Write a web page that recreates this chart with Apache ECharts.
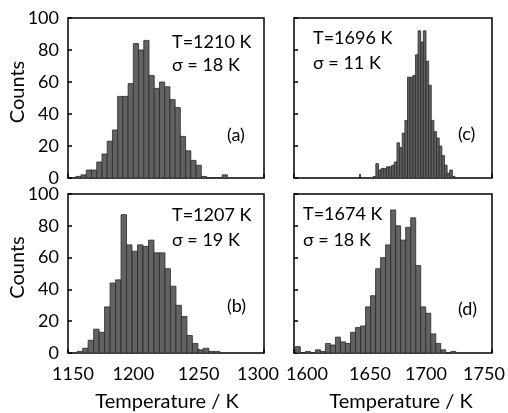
<!DOCTYPE html>
<html>
<head>
<meta charset="utf-8">
<script src="https://cdn.jsdelivr.net/npm/echarts@6/dist/echarts.min.js"></script>
<style>html,body{margin:0;padding:0;background:#fff}#c{width:508px;height:413px}</style>
</head>
<body>
<div id="c"></div>
<script>
// ---- data ----
const yTicks = [0, 20, 40, 60, 80, 100];
const xTicksLeft = [1150, 1200, 1250, 1300];
const xTicksRight = [1600, 1650, 1700, 1750];

// panel (a): bins of 4 K starting at 1156
const aBinStart = 1156, aBinWidth = 4;
const aCounts = [1, 2, 5, 5, 10, 15, 23, 30, 51, 51, 59, 84, 80, 86, 64, 56, 60, 57, 49, 44, 26, 17, 11, 8, 1, 0, 0, 0, 2];
// panel (b): bins of 4.2 K starting at 1157
const bBinStart = 1157, bBinWidth = 4.2;
const bCounts = [1, 3, 8, 15, 13, 29, 44, 46, 87, 68, 64, 68, 67, 71, 63, 63, 53, 42, 30, 23, 11, 6, 2, 3, 1, 1];
// panel (c): bins of 2 K starting at 1660
const cBinStart = 1660, cBinWidth = 2;
const cCounts = [1, 9, 5, 6, 6, 7, 7, 8, 10, 22, 19, 28, 36, 63, 63, 64, 77, 92, 85, 92, 73, 58, 36, 29, 25, 20, 14, 8, 3, 5, 1];
// panel (d): bins of 3.8 K starting at 1601
const dBinStart = 1601, dBinWidth = 3.8;
const dCounts = [4, 0, 1, 0, 2, 1, 6, 5, 10, 7, 6, 13, 16, 17, 29, 36, 53, 60, 68, 90, 80, 71, 79, 85, 55, 29, 25, 12, 6, 2, 0, 1];

const annotations = [
  ['T=1210 K', 'σ = 18 K', '(a)'],
  ['T=1696 K', 'σ = 11 K', '(c)'],
  ['T=1207 K', 'σ = 19 K', '(b)'],
  ['T=1674 K', 'σ = 18 K', '(d)']
];
const yName = 'Counts';
const xName = 'Temperature / K';

// ---- build ----
function bins(start, width, counts) {
  return counts.map((c, i) => [start + i * width, start + (i + 1) * width, c]);
}
const FONT = 'Lato';
const chart = echarts.init(document.getElementById('c'), null, {renderer: 'canvas'});

const grids = [
  {left: 68, top: 18, width: 196, height: 160},
  {left: 294, top: 18, width: 198, height: 160},
  {left: 68, top: 194, width: 196, height: 159},
  {left: 294, top: 194, width: 198, height: 159}
].map(g => Object.assign({show: true, borderColor: '#000', borderWidth: 1.5, backgroundColor: 'transparent'}, g));

const shiftsLeft = {1150: 5, 1200: 0, 1250: 0, 1300: -6};
const shiftsRight = {1600: 13, 1650: 10, 1700: 0, 1750: -8};
function richFor(shifts) {
  const r = {};
  Object.keys(shifts).forEach(k => {
    const d = shifts[k];
    r['s' + k] = {fontFamily: FONT, fontSize: 18, color: '#000',
      padding: d >= 0 ? [0, 0, 0, 2 * d] : [0, -2 * d, 0, 0]};
  });
  return r;
}

function xAxis(gi, ticks, showLabels, shifts) {
  return {
    type: 'value', gridIndex: gi, min: ticks[0], max: ticks[ticks.length - 1], interval: 50,
    axisLine: {show: false},
    axisTick: {show: true, inside: true, length: 4, lineStyle: {color: '#000', width: 1.5}},
    splitLine: {show: false},
    axisLabel: {show: showLabels, margin: 12, fontFamily: FONT, fontSize: 18, color: '#000',
      formatter: v => '{s' + v + '|' + v + '}', rich: richFor(shifts)},
    name: showLabels ? xName : '', nameLocation: 'middle', nameGap: 39,
    nameTextStyle: {fontFamily: FONT, fontSize: 20, color: '#000',
      padding: gi === 3 ? [0, 0, 0, 16] : [0, 0, 0, 2]}
  };
}
function yAxis(gi, showLabels) {
  return {
    type: 'value', gridIndex: gi, min: 0, max: 100, interval: 20,
    axisLine: {show: false},
    axisTick: {show: true, inside: true, length: 4, lineStyle: {color: '#000', width: 1.5}},
    splitLine: {show: false},
    axisLabel: {show: showLabels, margin: 9, fontFamily: FONT, fontSize: 18, color: '#000'},
    name: showLabels ? yName : '', nameLocation: 'middle', nameGap: 40, nameRotate: 90,
    nameMoveOverlap: false,
    nameTextStyle: {fontFamily: FONT, fontSize: 20, color: '#000', padding: [0, 0, 0, 12]}
  };
}

function renderItem(params, api) {
  const x0 = api.value(0), x1 = api.value(1), y = api.value(2);
  const p0 = api.coord([x0, y]);
  const p1 = api.coord([x1, 0]);
  return {
    type: 'rect',
    shape: {x: p0[0], y: p0[1], width: p1[0] - p0[0], height: p1[1] - p0[1]},
    style: {fill: '#626262', stroke: '#2a2a2a', lineWidth: 0.8}
  };
}
function series(gi, data) {
  return {type: 'custom', xAxisIndex: gi, yAxisIndex: gi, renderItem: renderItem, clip: true,
    encode: {x: [0, 1], y: 2}, data: data, z: 1};
}

const annPos = [
  {x: 172, y1: 42, y2: 65, lx: 227, ly: 135},
  {x: 313, y1: 38, y2: 63, lx: 458, ly: 134},
  {x: 172, y1: 215, y2: 240, lx: 227, ly: 306},
  {x: 303, y1: 214, y2: 240, lx: 458, ly: 309}
];
const graphics = [];
annotations.forEach((a, i) => {
  const p = annPos[i];
  graphics.push({type: 'text', x: p.x, y: p.y1, z: 10, style: {text: a[0], font: '18px ' + FONT, fill: '#000', textVerticalAlign: 'middle'}});
  graphics.push({type: 'text', x: p.x, y: p.y2, z: 10, style: {text: a[1], font: '18px ' + FONT, fill: '#000', textVerticalAlign: 'middle'}});
  graphics.push({type: 'text', x: p.lx, y: p.ly, z: 10, style: {text: a[2], font: '18px ' + FONT, fill: '#000', textVerticalAlign: 'middle'}});
});

chart.setOption({
  animation: false,
  backgroundColor: '#fff',
  grid: grids,
  xAxis: [xAxis(0, xTicksLeft, false, shiftsLeft), xAxis(1, xTicksRight, false, shiftsRight),
          xAxis(2, xTicksLeft, true, shiftsLeft), xAxis(3, xTicksRight, true, shiftsRight)],
  yAxis: [yAxis(0, true), yAxis(1, false), yAxis(2, true), yAxis(3, false)],
  series: [
    series(0, bins(aBinStart, aBinWidth, aCounts)),
    series(1, bins(cBinStart, cBinWidth, cCounts)),
    series(2, bins(bBinStart, bBinWidth, bCounts)),
    series(3, bins(dBinStart, dBinWidth, dCounts))
  ],
  graphic: graphics
});
</script>
</body>
</html>
